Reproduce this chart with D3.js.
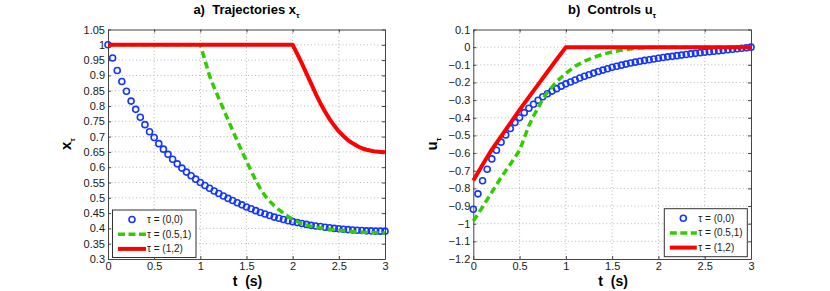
<!DOCTYPE html>
<html>
<head>
<meta charset="utf-8">
<script src="https://cdn.jsdelivr.net/npm/d3@7"></script>
<style>
	body { margin: 0; background: #fff; }
	svg { display: block; font-family: "Liberation Sans", Arial, Helvetica, sans-serif; }
</style>
</head>
<body>
<div id="chart"></div>
<script>

///////////////////////////////////////////////////////////////////////
// data

const tBlue = [ 0, 0.05, 0.1, 0.15, 0.2, 0.25, 0.3, 0.35, 0.4, 0.45, 0.5, 0.55, 0.6, 0.65, 0.7, 0.75, 0.8, 0.85, 0.9, 0.95,
	1, 1.05, 1.1, 1.15, 1.2, 1.25, 1.3, 1.35, 1.4, 1.45, 1.5, 1.55, 1.6, 1.65, 1.7, 1.75, 1.8, 1.85, 1.9, 1.95,
	2, 2.05, 2.1, 2.15, 2.2, 2.25, 2.3, 2.35, 2.4, 2.45, 2.5, 2.55, 2.6, 2.65, 2.7, 2.75, 2.8, 2.85, 2.9, 2.95, 3 ];

// tau = (0,0)
const xBlue = [ 1.000, 0.957, 0.916, 0.880, 0.848, 0.816, 0.789, 0.763, 0.739, 0.716, 0.697, 0.677, 0.659, 0.642, 0.626, 0.611, 0.597, 0.584, 0.572, 0.561,
	0.550, 0.540, 0.531, 0.522, 0.514, 0.506, 0.498, 0.491, 0.484, 0.477, 0.470, 0.464, 0.458, 0.452, 0.447, 0.442, 0.437, 0.433, 0.429, 0.425,
	0.422, 0.419, 0.416, 0.413, 0.410, 0.408, 0.406, 0.404, 0.402, 0.400, 0.399, 0.397, 0.396, 0.395, 0.394, 0.393, 0.392, 0.392, 0.391, 0.391, 0.391 ];
const uBlue = [ -0.918, -0.831, -0.757, -0.692, -0.633, -0.584, -0.538, -0.497, -0.461, -0.427, -0.399, -0.371, -0.346, -0.323, -0.301, -0.281, -0.264, -0.249, -0.235, -0.221,
	-0.208, -0.197, -0.186, -0.175, -0.165, -0.156, -0.147, -0.138, -0.130, -0.122, -0.114, -0.108, -0.102, -0.096, -0.090, -0.085, -0.080, -0.075, -0.071, -0.067,
	-0.063, -0.059, -0.055, -0.052, -0.048, -0.045, -0.042, -0.038, -0.035, -0.032, -0.029, -0.026, -0.023, -0.021, -0.018, -0.015, -0.012, -0.009, -0.006, -0.003, 0.000 ];

// tau = (0.5,1)
const tGreenX = [ 0, 1, 1.05, 1.1, 1.15, 1.2, 1.25, 1.3, 1.35, 1.4, 1.45, 1.5, 1.55, 1.6, 1.65, 1.7, 1.75, 1.8, 1.85, 1.9, 1.95,
	2, 2.1, 2.2, 2.3, 2.4, 2.5, 2.6, 2.7, 2.8, 2.9, 3 ];
const xGreen = [ 1, 1, 0.950, 0.898, 0.860, 0.825, 0.790, 0.755, 0.720, 0.686, 0.652, 0.620, 0.588, 0.557, 0.530, 0.507, 0.489, 0.474, 0.461, 0.450, 0.439,
	0.430, 0.415, 0.407, 0.401, 0.397, 0.394, 0.391, 0.389, 0.387, 0.386, 0.385 ];
const tGreenU = [ 0, 0.1, 0.2, 0.3, 0.4, 0.5, 0.55, 0.6, 0.65, 0.7, 0.75, 0.8, 0.9, 1, 1.1, 1.2, 1.3, 1.4, 1.5, 1.6, 1.7, 1.8, 1.9, 2, 3 ];
const uGreen = [ -0.985, -0.905, -0.822, -0.738, -0.663, -0.585, -0.515, -0.445, -0.390, -0.345, -0.295, -0.255, -0.195, -0.148,
	-0.108, -0.080, -0.058, -0.040, -0.027, -0.017, -0.010, -0.005, -0.002, 0, 0 ];

// tau = (1,2)
const tRedX = [ 0, 2, 2.05, 2.1, 2.15, 2.2, 2.25, 2.3, 2.35, 2.4, 2.45, 2.5, 2.55, 2.6, 2.65, 2.7, 2.75, 2.8, 2.85, 2.9, 2.95, 3 ];
const xRed = [ 1, 1, 0.970, 0.939, 0.906, 0.873, 0.840, 0.809, 0.782, 0.757, 0.736, 0.717, 0.702, 0.688, 0.678, 0.669, 0.662, 0.657, 0.654, 0.651, 0.650, 0.649 ];
const tRedU = [ 0, 0.1, 0.2, 0.3, 0.4, 0.5, 0.6, 0.7, 0.8, 0.9, 1, 3 ];
const uRed = [ -0.755, -0.666, -0.580, -0.505, -0.430, -0.355, -0.283, -0.212, -0.141, -0.070, 0, 0 ];

const tTicks = [ 0, 0.5, 1, 1.5, 2, 2.5, 3 ];
const xTicks = [ 0.3, 0.35, 0.4, 0.45, 0.5, 0.55, 0.6, 0.65, 0.7, 0.75, 0.8, 0.85, 0.9, 0.95, 1, 1.05 ];
const uTicks = [ -1.2, -1.1, -1, -0.9, -0.8, -0.7, -0.6, -0.5, -0.4, -0.3, -0.2, -0.1, 0, 0.1 ];

const legendLabels = [ "\u03c4 = (0,0)", "\u03c4 = (0.5,1)", "\u03c4 = (1,2)" ];

///////////////////////////////////////////////////////////////////////

const BLUE = "#1436ff", GREEN = "#33cc00", RED = "#ff0000";

const svg = d3.select( "#chart" )
	.append( "svg" )
		.attr( "width", 830 )
		.attr( "height", 291 );

function fmt( v ) {
	return( String( +v.toFixed( 2 ) ).replace( "-", "\u2212" ) );
}

function draw_panel( p ) {

	const g = svg.append( "g" );

	const x = d3.scaleLinear().domain( [ 0, 3 ] ).range( [ p.left, p.right ] );
	const y = d3.scaleLinear().domain( [ p.yTicks[ 0 ], p.yTicks[ p.yTicks.length - 1 ] ] ).range( [ p.bottom, p.top ] );

	// dotted grid
	const grid = g.append( "g" );
	grid.selectAll( "line.gx" )
		.data( tTicks.slice( 1, -1 ) )
		.join( "line" )
			.attr( "class", "gx" )
			.attr( "x1", d => x( d ) ).attr( "x2", d => x( d ) )
			.attr( "y1", p.top ).attr( "y2", p.bottom );
	grid.selectAll( "line.gy" )
		.data( p.yTicks.slice( 1, -1 ) )
		.join( "line" )
			.attr( "class", "gy" )
			.attr( "x1", p.left ).attr( "x2", p.right )
			.attr( "y1", d => y( d ) ).attr( "y2", d => y( d ) );
	grid.selectAll( "line" )
		.attr( "stroke", "#b8b8b8" )
		.attr( "stroke-width", 1 )
		.attr( "stroke-dasharray", "1,2.5" );

	// axes (ticks point inward, like the original)
	const axes = [
		[ d3.axisBottom( x ).tickValues( tTicks ).tickFormat( fmt ), `translate(0,${p.bottom})` ],
		[ d3.axisTop( x ).tickValues( tTicks ).tickFormat( "" ), `translate(0,${p.top})` ],
		[ d3.axisLeft( y ).tickValues( p.yTicks ).tickFormat( fmt ), `translate(${p.left},0)` ],
		[ d3.axisRight( y ).tickValues( p.yTicks ).tickFormat( "" ), `translate(${p.right},0)` ]
	];
	axes.forEach( ( [ ax, tr ] ) => {
		const a = g.append( "g" )
			.attr( "transform", tr )
			.call( ax.tickSizeInner( -3 ).tickSizeOuter( 0 ).tickPadding( 3 ) );
		a.select( ".domain" ).attr( "stroke", "#444" );
		a.selectAll( ".tick line" ).attr( "stroke", "#444" );
		a.selectAll( "text" )
			.attr( "fill", "#1a1a1a" )
			.style( "font-size", "11px" )
			.style( "font-family", "'Liberation Sans', Arial, sans-serif" );
	} );

	// series
	const line = d3.line().x( d => x( d[ 0 ] ) ).y( d => y( d[ 1 ] ) );

	g.append( "g" ).selectAll( "circle" )
		.data( d3.zip( tBlue, p.blue ) )
		.join( "circle" )
			.attr( "cx", d => x( d[ 0 ] ) )
			.attr( "cy", d => y( d[ 1 ] ) )
			.attr( "r", 3 )
			.attr( "fill", "none" )
			.attr( "stroke", BLUE )
			.attr( "stroke-width", 1.6 );

	g.append( "path" )
		.attr( "d", line( d3.zip( p.greenT, p.green ) ) )
		.attr( "fill", "none" )
		.attr( "stroke", GREEN )
		.attr( "stroke-width", 3.5 )
		.attr( "stroke-dasharray", "7,4" );

	g.append( "path" )
		.attr( "d", line( d3.zip( p.redT, p.red ) ) )
		.attr( "fill", "none" )
		.attr( "stroke", RED )
		.attr( "stroke-width", 4 )
		.attr( "stroke-linejoin", "round" );

	// title
	const cx = ( p.left + p.right ) / 2;
	const title = g.append( "text" )
		.attr( "x", cx ).attr( "y", 14 )
		.attr( "text-anchor", "middle" )
		.style( "white-space", "pre" )
		.style( "font-size", "13px" )
		.style( "font-weight", "bold" );
	title.append( "tspan" ).text( p.title );
	title.append( "tspan" ).attr( "dy", 4 ).style( "font-size", "8px" ).text( "\u03c4" );

	// x label
	g.append( "text" )
		.attr( "x", cx + 1 ).attr( "y", 286 )
		.attr( "text-anchor", "middle" )
		.style( "white-space", "pre" )
		.style( "font-size", "14px" )
		.style( "font-weight", "bold" )
		.text( "t  (s)" );

	// y label
	const yl = g.append( "text" )
		.attr( "transform", `translate(${p.ylabelX},144) rotate(-90)` )
		.attr( "text-anchor", "middle" )
		.style( "font-size", "15px" )
		.style( "font-weight", "bold" );
	yl.append( "tspan" ).text( p.ylabel );
	yl.append( "tspan" ).attr( "dy", 4 ).style( "font-size", "8px" ).text( "\u03c4" );

	// legend
	const L = p.legend;
	const lg = g.append( "g" );
	lg.append( "rect" )
		.attr( "x", L.x ).attr( "y", L.y )
		.attr( "width", L.w ).attr( "height", L.h )
		.attr( "fill", "#fff" )
		.attr( "stroke", "#333" )
		.attr( "stroke-width", 1 );
	const rows = legendLabels.map( ( s, i ) => ( { s, i, yy: L.y + 9.5 + i * 14.7 } ) );
	lg.append( "circle" )
		.attr( "cx", L.x + L.sx + L.sw / 2 ).attr( "cy", rows[ 0 ].yy )
		.attr( "r", 3 ).attr( "fill", "none" )
		.attr( "stroke", BLUE ).attr( "stroke-width", 1.6 );
	lg.append( "line" )
		.attr( "x1", L.x + L.sx ).attr( "x2", L.x + L.sx + L.sw )
		.attr( "y1", rows[ 1 ].yy ).attr( "y2", rows[ 1 ].yy )
		.attr( "stroke", GREEN ).attr( "stroke-width", 3.5 )
		.attr( "stroke-dasharray", "7,3.5" );
	lg.append( "line" )
		.attr( "x1", L.x + L.sx ).attr( "x2", L.x + L.sx + L.sw )
		.attr( "y1", rows[ 2 ].yy ).attr( "y2", rows[ 2 ].yy )
		.attr( "stroke", RED ).attr( "stroke-width", 4 );
	lg.selectAll( "text" )
		.data( rows )
		.join( "text" )
			.attr( "x", L.x + L.tx )
			.attr( "y", d => d.yy )
			.attr( "dy", "0.35em" )
			.attr( "fill", "#1a1a1a" )
			.style( "font-size", "10px" )
			.text( d => d.s );
}

draw_panel( {
	left: 108, right: 385, top: 29.5, bottom: 259,
	yTicks: xTicks,
	blue: xBlue, greenT: tGreenX, green: xGreen, redT: tRedX, red: xRed,
	title: "a)  Trajectories x",
	ylabel: "x", ylabelX: 71,
	legend: { x: 112.5, y: 210, w: 83.5, h: 47.5, sx: 5.5, sw: 28, tx: 34.5 }
} );

draw_panel( {
	left: 473.3, right: 751, top: 29.5, bottom: 259,
	yTicks: uTicks,
	blue: uBlue, greenT: tGreenU, green: uGreen, redT: tRedU, red: uRed,
	title: "b)  Controls u",
	ylabel: "u", ylabelX: 437,
	legend: { x: 664.3, y: 208.7, w: 83, h: 48, sx: 5.5, sw: 27, tx: 34 }
} );

</script>
</body>
</html>
